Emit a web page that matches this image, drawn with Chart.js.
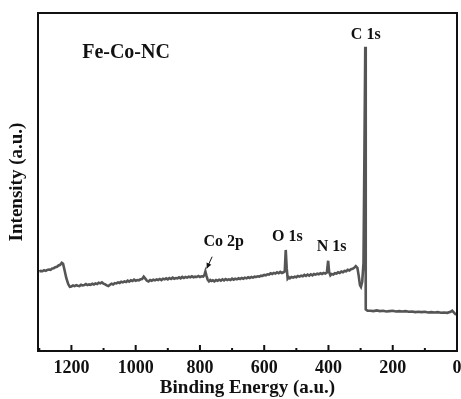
<!DOCTYPE html>
<html>
<head>
<meta charset="utf-8">
<script src="https://cdn.jsdelivr.net/npm/chart.js@4.4.1/dist/chart.umd.min.js"></script>
<style>
  html, body { margin: 0; padding: 0; background: #fff; }
  #wrap { width: 461px; height: 399px; overflow: hidden; }
</style>
</head>
<body>
<div id="wrap"><canvas id="c" width="461" height="399"></canvas></div>
<script>
// XPS survey spectrum of Fe-Co-NC (binding energy in eV, intensity in arbitrary units)
const energy = [
  1300,1295,1290,1285,1280,1275,1270,1265,1260,1255,1250,1245,1240,1235,1230,1226,1222,1216,1210,1205,
  1200,1195,1190,1185,1180,1175,1170,1165,1160,1155,1150,1145,1140,1135,1130,1125,1120,1115,1110,1105,
  1100,1095,1090,1085,1080,1075,1070,1065,1060,1055,1050,1045,1040,1035,1030,1025,1020,1015,1010,1005,
  1000,995,990,985,980,975,970,965,960,955,950,945,940,935,930,925,920,915,910,905,
  900,895,890,885,880,875,870,865,860,855,850,845,840,835,830,825,820,815,810,805,
  800,795,790,786,783,780,776,772,768,764,760,755,750,745,740,735,730,725,720,715,
  710,705,700,695,690,685,680,675,670,665,660,655,650,645,640,635,630,625,620,615,
  610,605,600,595,590,585,580,575,570,565,560,555,550,545,540,536,533,530,527,523,
  520,515,510,505,500,495,490,485,480,475,470,465,460,455,450,445,440,435,430,425,
  420,415,410,405,401,398,394,390,385,380,375,370,365,360,355,350,345,340,335,330,
  325,320,315,310,306,302,299,295,291,288,285.5,284,281,278,270,260,250,240,230,220,
  210,200,190,180,170,160,150,140,130,120,110,100,90,80,70,60,50,40,30,20,
  15,10,5,0
];
const intensity = [
  23.5,23.7,23.6,23.9,23.7,24.0,24.1,24.0,24.4,24.5,24.8,24.9,25.3,25.5,26.1,25.8,24.2,21.6,19.8,19.0,
  19.1,19.4,19.2,19.5,19.3,19.2,19.6,19.4,19.5,19.8,19.5,19.7,19.6,19.9,19.7,20.0,19.8,20.2,20.0,20.3,
  19.9,19.7,19.4,19.2,19.6,19.9,19.7,20.1,20.0,20.3,20.1,20.5,20.3,20.6,20.4,20.8,20.5,20.9,20.7,21.1,
  20.8,21.0,20.9,21.2,21.3,22.0,21.4,20.8,20.6,21.0,20.8,21.1,20.9,21.2,21.0,21.3,21.0,21.4,21.2,21.5,
  21.2,21.6,21.3,21.7,21.4,21.6,21.5,21.8,21.5,21.9,21.6,21.9,21.7,22.0,21.8,22.1,21.8,22.0,21.9,22.2,
  21.9,22.1,22.0,22.5,23.5,22.4,21.1,20.6,21.0,20.7,20.9,20.6,21.0,20.8,21.1,20.8,21.2,20.9,21.3,21.0,
  21.2,21.0,21.4,21.1,21.4,21.2,21.5,21.3,21.6,21.4,21.7,21.5,21.8,21.6,21.9,21.7,22.0,21.9,22.1,22.0,
  22.3,22.2,22.5,22.4,22.7,22.6,23.0,22.8,23.1,22.9,23.3,23.0,23.4,23.1,23.3,23.6,29.9,24.5,21.4,21.8,
  21.5,21.9,21.7,22.0,21.8,22.2,22.0,22.3,22.1,22.5,22.2,22.6,22.3,22.7,22.4,22.8,22.6,22.9,22.7,23.0,
  22.8,23.1,22.9,23.2,26.7,23.4,22.4,22.8,22.6,23.0,22.9,23.3,23.1,23.5,23.3,23.7,23.6,24.0,23.8,24.2,
  24.3,24.6,25.1,24.6,22.3,19.5,19.0,20.5,26.0,60.0,90.0,12.3,12.1,11.9,11.9,11.8,12.0,11.8,11.9,11.7,
  11.8,11.9,11.7,11.8,11.7,11.8,11.6,11.7,11.5,11.6,11.5,11.6,11.4,11.5,11.4,11.5,11.3,11.4,11.3,11.6,
  11.9,11.4,10.9,10.8
];

// Axis tick values and peak annotations
const xTicks = [1200, 1000, 800, 600, 400, 200, 0];
const peakLabels = ['C 1s', 'O 1s', 'N 1s', 'Co 2p'];
const peakLabelX = [284, 528, 390, 726];
const peakLabelY = [93.5, 33.7, 30.9, 32.3];
const sampleName = 'Fe-Co-NC';

const points = energy.map((e, i) => ({ x: e, y: intensity[i] }));

const SERIF = '"Liberation Serif", "Times New Roman", serif';

const framePlugin = {
  id: 'frameAndLabels',
  afterDraw(chart) {
    const { ctx, chartArea: a, scales } = chart;
    const xs = scales.x, ys = scales.y;
    ctx.save();
    // plot frame
    ctx.strokeStyle = '#111';
    ctx.lineWidth = 2;
    ctx.strokeRect(a.left, a.top, a.right - a.left, a.bottom - a.top);
    // inward ticks on the bottom axis
    xTicks.forEach(v => {
      const px = xs.getPixelForValue(v);
      ctx.beginPath(); ctx.moveTo(px, a.bottom); ctx.lineTo(px, a.bottom - 6); ctx.stroke();
      const m = v + 100;
      if (m <= xs.max) {
        const pm = xs.getPixelForValue(m);
        ctx.beginPath(); ctx.moveTo(pm, a.bottom); ctx.lineTo(pm, a.bottom - 3); ctx.stroke();
      }
    });
    // peak labels
    ctx.fillStyle = '#111';
    ctx.textAlign = 'center';
    ctx.textBaseline = 'middle';
    ctx.font = 'bold 16px ' + SERIF;
    peakLabels.forEach((t, i) => {
      ctx.fillText(t, xs.getPixelForValue(peakLabelX[i]), ys.getPixelForValue(peakLabelY[i]));
    });
    ctx.font = 'bold 20px ' + SERIF;
    ctx.fillText(sampleName, xs.getPixelForValue(1030), ys.getPixelForValue(88.2));
    // arrow pointing at the Co 2p feature
    const x1 = xs.getPixelForValue(762), y1 = ys.getPixelForValue(27.9);
    const x2 = xs.getPixelForValue(779), y2 = ys.getPixelForValue(24.4);
    ctx.lineWidth = 1;
    ctx.beginPath(); ctx.moveTo(x1, y1); ctx.lineTo(x2, y2); ctx.stroke();
    const ang = Math.atan2(y2 - y1, x2 - x1);
    const L = 6, W = 0.45;
    ctx.beginPath();
    ctx.moveTo(x2, y2);
    ctx.lineTo(x2 - L * Math.cos(ang - W), y2 - L * Math.sin(ang - W));
    ctx.lineTo(x2 - L * Math.cos(ang + W), y2 - L * Math.sin(ang + W));
    ctx.closePath();
    ctx.fill();
    ctx.restore();
  }
};

new Chart(document.getElementById('c'), {
  type: 'line',
  data: {
    datasets: [{
      data: points,
      borderColor: '#555555',
      borderWidth: 2.6,
      pointRadius: 0,
      tension: 0,
      fill: false
    }]
  },
  options: {
    responsive: false,
    animation: false,
    devicePixelRatio: 1,
    layout: { padding: { left: 0, right: 4, top: 13, bottom: 0 } },
    plugins: { legend: { display: false }, tooltip: { enabled: false } },
    scales: {
      x: {
        type: 'linear',
        reverse: true,
        min: 0,
        max: 1304,
        grid: { display: false, drawTicks: false },
        border: { display: false },
        ticks: {
          stepSize: 200,
          includeBounds: false,
          maxRotation: 0,
          autoSkip: false,
          padding: 7,
          color: '#111',
          font: { family: SERIF, size: 18, weight: 'bold' },
          callback: v => String(v)
        },
        title: {
          display: true,
          text: 'Binding Energy (a.u.)',
          color: '#111',
          padding: { top: 4, bottom: 0 },
          font: { family: SERIF, size: 19, weight: 'bold' }
        },
        afterFit(s) {
          s.height = 48;
          s.paddingLeft = 0;
          s.paddingRight = 0;
        }
      },
      y: {
        min: 0,
        max: 100,
        grid: { display: false, drawTicks: false },
        border: { display: false },
        ticks: { display: false },
        title: {
          display: true,
          text: 'Intensity (a.u.)',
          color: '#111',
          padding: { top: 6, bottom: 0 },
          font: { family: SERIF, size: 19, weight: 'bold' }
        },
        afterFit(s) { s.width = 38; }
      }
    }
  },
  plugins: [framePlugin]
});
</script>
</body>
</html>
